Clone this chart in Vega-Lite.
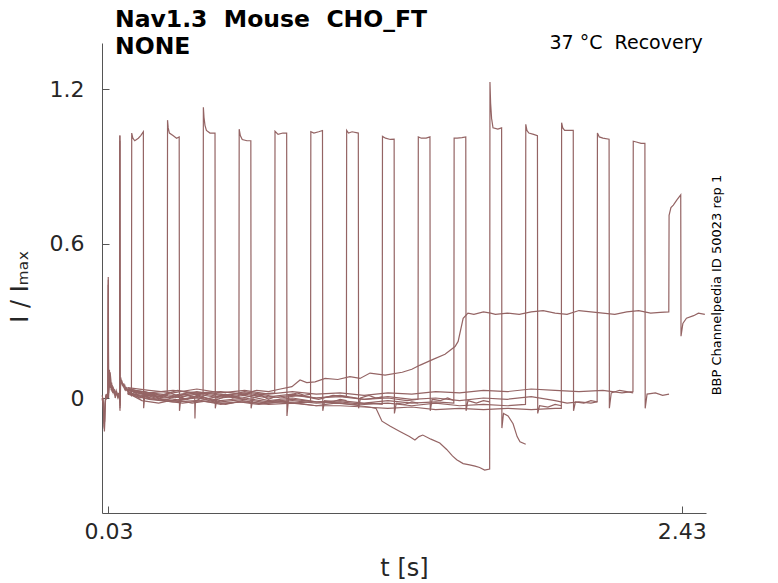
{
  "$schema": "https://vega.github.io/schema/vega-lite/v6.json",
  "width": 604,
  "height": 470,
  "autosize": "none",
  "padding": {"left": 102, "top": 43, "right": 72, "bottom": 70},
  "background": "white",
  "config": {
    "view": {"stroke": null},
    "font": "DejaVu Sans",
    "axis": {
      "grid": false,
      "domainColor": "#555555",
      "tickColor": "#555555",
      "tickSize": -7,
      "labelColor": "#262626",
      "labelFont": "DejaVu Sans",
      "labelFontSize": 22,
      "titleColor": "#262626",
      "titleFont": "DejaVu Sans",
      "titleFontSize": 24,
      "titleFontWeight": "normal"
    }
  },
  "layer": [
    {
      "data": {"values": [
        {"k":20,"t":0.003,"i":0.0},{"k":20,"t":0.006,"i":-0.01},{"k":20,"t":0.009,"i":-0.02},{"k":20,"t":0.011,"i":-0.11},{"k":20,"t":0.013,"i":-0.12},{"k":20,"t":0.015,"i":-0.04},{"k":20,"t":0.018,"i":0.01},{"k":20,"t":0.022,"i":0.0},{"k":20,"t":0.026,"i":0.02},{"k":20,"t":0.028,"i":0.01},{"k":20,"t":0.029,"i":0.47},{"k":20,"t":0.030,"i":0.03},{"k":20,"t":0.032,"i":0.06},{"k":20,"t":0.034,"i":0.11},{"k":20,"t":0.036,"i":0.04},{"k":20,"t":0.038,"i":0.09},{"k":20,"t":0.041,"i":0.03},{"k":20,"t":0.045,"i":0.05},{"k":20,"t":0.05,"i":0.02},{"k":20,"t":0.055,"i":0.03},{"k":20,"t":0.06,"i":0.01},{"k":20,"t":0.065,"i":0.02},{"k":20,"t":0.07,"i":0.0},{"k":20,"t":0.074,"i":0.01},{"k":20,"t":0.077,"i":0.0},{"k":20,"t":0.0775,"i":1.02},{"k":20,"t":0.078,"i":-0.05},{"k":20,"t":0.079,"i":0.03},{"k":20,"t":0.081,"i":0.08},{"k":20,"t":0.085,"i":0.06},{"k":20,"t":0.09,"i":0.05},{"k":20,"t":0.095,"i":0.04},{"k":20,"t":0.1,"i":0.03},{"k":20,"t":0.105,"i":0.035},{"k":20,"t":0.11,"i":0.03},
        {"k":21,"t":0.003,"i":0.01},{"k":21,"t":0.006,"i":0.0},{"k":21,"t":0.009,"i":-0.04},{"k":21,"t":0.011,"i":-0.09},{"k":21,"t":0.013,"i":-0.13},{"k":21,"t":0.015,"i":-0.06},{"k":21,"t":0.018,"i":0.0},{"k":21,"t":0.022,"i":0.01},{"k":21,"t":0.026,"i":0.0},{"k":21,"t":0.028,"i":0.02},{"k":21,"t":0.0292,"i":0.46},{"k":21,"t":0.0305,"i":0.02},{"k":21,"t":0.033,"i":0.08},{"k":21,"t":0.035,"i":0.05},{"k":21,"t":0.037,"i":0.1},{"k":21,"t":0.04,"i":0.06},{"k":21,"t":0.044,"i":0.03},{"k":21,"t":0.05,"i":0.04},{"k":21,"t":0.056,"i":0.015},{"k":21,"t":0.062,"i":0.03},{"k":21,"t":0.068,"i":0.005},{"k":21,"t":0.073,"i":0.02},{"k":21,"t":0.0768,"i":0.0},{"k":21,"t":0.0776,"i":1.0},{"k":21,"t":0.0782,"i":-0.04},{"k":21,"t":0.08,"i":0.05},{"k":21,"t":0.083,"i":0.07},{"k":21,"t":0.088,"i":0.05},{"k":21,"t":0.094,"i":0.055},{"k":21,"t":0.1,"i":0.035},{"k":21,"t":0.106,"i":0.04},{"k":21,"t":0.11,"i":0.025},
        {"k":22,"t":0.003,"i":-0.01},{"k":22,"t":0.007,"i":0.0},{"k":22,"t":0.01,"i":-0.07},{"k":22,"t":0.012,"i":-0.1},{"k":22,"t":0.014,"i":-0.09},{"k":22,"t":0.016,"i":-0.02},{"k":22,"t":0.02,"i":0.015},{"k":22,"t":0.024,"i":0.005},{"k":22,"t":0.027,"i":0.015},{"k":22,"t":0.0288,"i":0.44},{"k":22,"t":0.0302,"i":0.0},{"k":22,"t":0.033,"i":0.05},{"k":22,"t":0.036,"i":0.08},{"k":22,"t":0.039,"i":0.04},{"k":22,"t":0.043,"i":0.06},{"k":22,"t":0.048,"i":0.02},{"k":22,"t":0.053,"i":0.035},{"k":22,"t":0.058,"i":0.0},{"k":22,"t":0.064,"i":0.02},{"k":22,"t":0.07,"i":0.01},{"k":22,"t":0.075,"i":0.015},{"k":22,"t":0.0772,"i":-0.02},{"k":22,"t":0.0778,"i":1.02},{"k":22,"t":0.0785,"i":-0.03},{"k":22,"t":0.081,"i":0.06},{"k":22,"t":0.086,"i":0.065},{"k":22,"t":0.092,"i":0.045},{"k":22,"t":0.098,"i":0.05},{"k":22,"t":0.104,"i":0.03},{"k":22,"t":0.11,"i":0.035},

        {"k":0,"t":0.11,"i":0.03},{"k":0,"t":0.118,"i":0.02},{"k":0,"t":0.126,"i":0.01},{"k":0,"t":0.1272,"i":1.03},{"k":0,"t":0.132,"i":1.01},{"k":0,"t":0.14,"i":1.0},{"k":0,"t":0.155,"i":1.01},{"k":0,"t":0.165,"i":1.02},{"k":0,"t":0.176,"i":1.035},{"k":0,"t":0.1772,"i":-0.04},{"k":0,"t":0.182,"i":0.01},{"k":0,"t":0.2,"i":0.0},{"k":0,"t":0.22,"i":0.015},{"k":0,"t":0.24,"i":-0.005},{"k":0,"t":0.26,"i":0.01},{"k":0,"t":0.277,"i":0.0},

        {"k":1,"t":0.11,"i":0.035},{"k":1,"t":0.15,"i":0.015},{"k":1,"t":0.2,"i":0.02},{"k":1,"t":0.24,"i":0.005},{"k":1,"t":0.276,"i":0.01},{"k":1,"t":0.2772,"i":1.08},{"k":1,"t":0.28,"i":1.05},{"k":1,"t":0.285,"i":1.03},{"k":1,"t":0.3,"i":1.02},{"k":1,"t":0.315,"i":1.01},{"k":1,"t":0.326,"i":1.015},{"k":1,"t":0.3272,"i":-0.05},{"k":1,"t":0.333,"i":0.0},{"k":1,"t":0.36,"i":0.01},{"k":1,"t":0.391,"i":0.0},{"k":1,"t":0.392,"i":-0.08},{"k":1,"t":0.394,"i":-0.01},{"k":1,"t":0.41,"i":-0.005},{"k":1,"t":0.427,"i":0.005},

        {"k":2,"t":0.11,"i":0.025},{"k":2,"t":0.16,"i":0.0},{"k":2,"t":0.21,"i":0.015},{"k":2,"t":0.26,"i":-0.01},{"k":2,"t":0.31,"i":0.005},{"k":2,"t":0.36,"i":-0.005},{"k":2,"t":0.4,"i":0.01},{"k":2,"t":0.426,"i":0.0},{"k":2,"t":0.4272,"i":1.13},{"k":2,"t":0.43,"i":1.09},{"k":2,"t":0.434,"i":1.06},{"k":2,"t":0.44,"i":1.04},{"k":2,"t":0.455,"i":1.03},{"k":2,"t":0.476,"i":1.03},{"k":2,"t":0.4772,"i":-0.04},{"k":2,"t":0.485,"i":0.005},{"k":2,"t":0.52,"i":0.015},{"k":2,"t":0.55,"i":0.0},{"k":2,"t":0.577,"i":0.01},

        {"k":3,"t":0.11,"i":0.04},{"k":3,"t":0.17,"i":0.02},{"k":3,"t":0.23,"i":0.005},{"k":3,"t":0.29,"i":0.02},{"k":3,"t":0.35,"i":-0.005},{"k":3,"t":0.41,"i":0.01},{"k":3,"t":0.47,"i":-0.01},{"k":3,"t":0.52,"i":0.005},{"k":3,"t":0.576,"i":0.0},{"k":3,"t":0.5772,"i":1.045},{"k":3,"t":0.582,"i":1.02},{"k":3,"t":0.59,"i":1.005},{"k":3,"t":0.61,"i":1.0},{"k":3,"t":0.626,"i":1.0},{"k":3,"t":0.6272,"i":-0.04},{"k":3,"t":0.635,"i":0.0},{"k":3,"t":0.67,"i":0.01},{"k":3,"t":0.7,"i":-0.005},{"k":3,"t":0.727,"i":0.005},

        {"k":4,"t":0.11,"i":0.03},{"k":4,"t":0.18,"i":0.025},{"k":4,"t":0.25,"i":0.01},{"k":4,"t":0.32,"i":0.03},{"k":4,"t":0.39,"i":0.015},{"k":4,"t":0.46,"i":0.02},{"k":4,"t":0.53,"i":0.01},{"k":4,"t":0.6,"i":0.025},{"k":4,"t":0.67,"i":0.015},{"k":4,"t":0.726,"i":0.02},{"k":4,"t":0.7272,"i":1.037},{"k":4,"t":0.74,"i":1.025},{"k":4,"t":0.76,"i":1.03},{"k":4,"t":0.776,"i":1.03},{"k":4,"t":0.7772,"i":-0.07},{"k":4,"t":0.785,"i":0.01},{"k":4,"t":0.82,"i":0.02},{"k":4,"t":0.85,"i":0.01},{"k":4,"t":0.877,"i":0.015},

        {"k":5,"t":0.11,"i":0.02},{"k":5,"t":0.17,"i":-0.01},{"k":5,"t":0.24,"i":-0.02},{"k":5,"t":0.31,"i":-0.005},{"k":5,"t":0.38,"i":-0.02},{"k":5,"t":0.45,"i":-0.01},{"k":5,"t":0.52,"i":-0.025},{"k":5,"t":0.59,"i":-0.01},{"k":5,"t":0.66,"i":-0.02},{"k":5,"t":0.73,"i":-0.01},{"k":5,"t":0.8,"i":-0.02},{"k":5,"t":0.876,"i":-0.015},{"k":5,"t":0.8772,"i":1.035},{"k":5,"t":0.89,"i":1.03},{"k":5,"t":0.91,"i":1.035},{"k":5,"t":0.926,"i":1.04},{"k":5,"t":0.9272,"i":-0.05},{"k":5,"t":0.935,"i":-0.01},{"k":5,"t":0.97,"i":-0.015},{"k":5,"t":1.0,"i":-0.005},{"k":5,"t":1.027,"i":-0.01},

        {"k":6,"t":0.11,"i":0.03},{"k":6,"t":0.19,"i":0.01},{"k":6,"t":0.27,"i":0.0},{"k":6,"t":0.35,"i":0.015},{"k":6,"t":0.43,"i":-0.005},{"k":6,"t":0.51,"i":0.01},{"k":6,"t":0.59,"i":0.0},{"k":6,"t":0.67,"i":0.015},{"k":6,"t":0.75,"i":0.0},{"k":6,"t":0.83,"i":0.01},{"k":6,"t":0.91,"i":-0.005},{"k":6,"t":0.97,"i":0.01},{"k":6,"t":1.026,"i":0.005},{"k":6,"t":1.0272,"i":1.04},{"k":6,"t":1.035,"i":1.03},{"k":6,"t":1.05,"i":1.035},{"k":6,"t":1.076,"i":1.03},{"k":6,"t":1.0772,"i":-0.04},{"k":6,"t":1.085,"i":0.0},{"k":6,"t":1.12,"i":0.01},{"k":6,"t":1.15,"i":0.0},{"k":6,"t":1.177,"i":0.005},

        {"k":7,"t":0.11,"i":0.025},{"k":7,"t":0.18,"i":0.0},{"k":7,"t":0.26,"i":-0.01},{"k":7,"t":0.34,"i":-0.02},{"k":7,"t":0.42,"i":-0.01},{"k":7,"t":0.5,"i":-0.025},{"k":7,"t":0.58,"i":-0.015},{"k":7,"t":0.66,"i":-0.025},{"k":7,"t":0.74,"i":-0.015},{"k":7,"t":0.82,"i":-0.02},{"k":7,"t":0.9,"i":-0.03},{"k":7,"t":0.98,"i":-0.02},{"k":7,"t":1.06,"i":-0.025},{"k":7,"t":1.13,"i":-0.02},{"k":7,"t":1.176,"i":-0.025},{"k":7,"t":1.1772,"i":1.017},{"k":7,"t":1.19,"i":1.01},{"k":7,"t":1.21,"i":1.005},{"k":7,"t":1.226,"i":1.006},{"k":7,"t":1.2272,"i":-0.06},{"k":7,"t":1.235,"i":-0.02},{"k":7,"t":1.27,"i":-0.025},{"k":7,"t":1.3,"i":-0.015},{"k":7,"t":1.327,"i":-0.02},

        {"k":8,"t":0.11,"i":0.035},{"k":8,"t":0.2,"i":0.02},{"k":8,"t":0.3,"i":0.01},{"k":8,"t":0.4,"i":0.025},{"k":8,"t":0.5,"i":0.01},{"k":8,"t":0.6,"i":0.02},{"k":8,"t":0.7,"i":0.005},{"k":8,"t":0.8,"i":0.015},{"k":8,"t":0.9,"i":0.0},{"k":8,"t":1.0,"i":0.01},{"k":8,"t":1.1,"i":-0.005},{"k":8,"t":1.2,"i":0.0},{"k":8,"t":1.28,"i":-0.01},{"k":8,"t":1.326,"i":-0.005},{"k":8,"t":1.3272,"i":1.015},{"k":8,"t":1.34,"i":1.01},{"k":8,"t":1.36,"i":1.01},{"k":8,"t":1.376,"i":1.015},{"k":8,"t":1.3772,"i":-0.05},{"k":8,"t":1.385,"i":-0.005},{"k":8,"t":1.42,"i":-0.01},{"k":8,"t":1.45,"i":0.0},{"k":8,"t":1.477,"i":-0.01},

        {"k":9,"t":0.11,"i":0.02},{"k":9,"t":0.2,"i":0.0},{"k":9,"t":0.3,"i":-0.01},{"k":9,"t":0.4,"i":0.005},{"k":9,"t":0.5,"i":-0.01},{"k":9,"t":0.6,"i":0.0},{"k":9,"t":0.7,"i":-0.015},{"k":9,"t":0.8,"i":-0.005},{"k":9,"t":0.9,"i":-0.015},{"k":9,"t":1.0,"i":-0.01},{"k":9,"t":1.1,"i":-0.02},{"k":9,"t":1.2,"i":-0.01},{"k":9,"t":1.3,"i":-0.02},{"k":9,"t":1.4,"i":-0.015},{"k":9,"t":1.476,"i":-0.02},{"k":9,"t":1.4772,"i":1.01},{"k":9,"t":1.49,"i":1.01},{"k":9,"t":1.51,"i":1.012},{"k":9,"t":1.526,"i":1.015},{"k":9,"t":1.5272,"i":-0.05},{"k":9,"t":1.535,"i":-0.01},{"k":9,"t":1.57,"i":-0.02},{"k":9,"t":1.6,"i":-0.01},{"k":9,"t":1.627,"i":-0.015},

        {"k":10,"t":0.11,"i":0.03},{"k":10,"t":0.2,"i":0.01},{"k":10,"t":0.3,"i":0.0},{"k":10,"t":0.4,"i":0.015},{"k":10,"t":0.5,"i":0.0},{"k":10,"t":0.6,"i":0.01},{"k":10,"t":0.7,"i":-0.01},{"k":10,"t":0.8,"i":0.0},{"k":10,"t":0.9,"i":-0.015},{"k":10,"t":1.0,"i":-0.02},{"k":10,"t":1.08,"i":-0.03},{"k":10,"t":1.12,"i":-0.035},{"k":10,"t":1.15,"i":-0.04},{"k":10,"t":1.175,"i":-0.09},{"k":10,"t":1.21,"i":-0.11},{"k":10,"t":1.25,"i":-0.13},{"k":10,"t":1.29,"i":-0.15},{"k":10,"t":1.313,"i":-0.163},{"k":10,"t":1.33,"i":-0.15},{"k":10,"t":1.346,"i":-0.144},{"k":10,"t":1.38,"i":-0.16},{"k":10,"t":1.417,"i":-0.175},{"k":10,"t":1.446,"i":-0.2},{"k":10,"t":1.47,"i":-0.225},{"k":10,"t":1.488,"i":-0.24},{"k":10,"t":1.515,"i":-0.255},{"k":10,"t":1.542,"i":-0.26},{"k":10,"t":1.565,"i":-0.265},{"k":10,"t":1.584,"i":-0.27},{"k":10,"t":1.605,"i":-0.28},{"k":10,"t":1.626,"i":-0.276},{"k":10,"t":1.6272,"i":1.228},{"k":10,"t":1.63,"i":1.146},{"k":10,"t":1.634,"i":1.087},{"k":10,"t":1.64,"i":1.05},{"k":10,"t":1.66,"i":1.045},{"k":10,"t":1.676,"i":1.05},{"k":10,"t":1.6772,"i":-0.117},{"k":10,"t":1.684,"i":-0.06},{"k":10,"t":1.703,"i":-0.07},{"k":10,"t":1.724,"i":-0.1},{"k":10,"t":1.741,"i":-0.15},{"k":10,"t":1.753,"i":-0.17},{"k":10,"t":1.777,"i":-0.18},

        {"k":11,"t":0.11,"i":0.02},{"k":11,"t":0.2,"i":0.005},{"k":11,"t":0.3,"i":-0.01},{"k":11,"t":0.4,"i":0.0},{"k":11,"t":0.5,"i":-0.015},{"k":11,"t":0.6,"i":-0.005},{"k":11,"t":0.7,"i":-0.02},{"k":11,"t":0.8,"i":-0.01},{"k":11,"t":0.9,"i":-0.02},{"k":11,"t":1.0,"i":-0.015},{"k":11,"t":1.1,"i":-0.025},{"k":11,"t":1.2,"i":-0.02},{"k":11,"t":1.3,"i":-0.03},{"k":11,"t":1.4,"i":-0.02},{"k":11,"t":1.5,"i":-0.03},{"k":11,"t":1.6,"i":-0.025},{"k":11,"t":1.7,"i":-0.03},{"k":11,"t":1.776,"i":-0.025},{"k":11,"t":1.7772,"i":1.064},{"k":11,"t":1.782,"i":1.04},{"k":11,"t":1.79,"i":1.03},{"k":11,"t":1.81,"i":1.025},{"k":11,"t":1.826,"i":1.02},{"k":11,"t":1.8272,"i":-0.06},{"k":11,"t":1.835,"i":-0.03},{"k":11,"t":1.87,"i":-0.035},{"k":11,"t":1.9,"i":-0.025},{"k":11,"t":1.927,"i":-0.03},

        {"k":12,"t":0.11,"i":0.015},{"k":12,"t":0.2,"i":-0.005},{"k":12,"t":0.3,"i":-0.015},{"k":12,"t":0.4,"i":-0.01},{"k":12,"t":0.5,"i":-0.02},{"k":12,"t":0.6,"i":-0.015},{"k":12,"t":0.7,"i":-0.025},{"k":12,"t":0.8,"i":-0.02},{"k":12,"t":0.9,"i":-0.03},{"k":12,"t":1.0,"i":-0.03},{"k":12,"t":1.1,"i":-0.035},{"k":12,"t":1.2,"i":-0.04},{"k":12,"t":1.3,"i":-0.035},{"k":12,"t":1.4,"i":-0.045},{"k":12,"t":1.5,"i":-0.04},{"k":12,"t":1.6,"i":-0.045},{"k":12,"t":1.7,"i":-0.04},{"k":12,"t":1.8,"i":-0.045},{"k":12,"t":1.9,"i":-0.04},{"k":12,"t":1.926,"i":-0.04},{"k":12,"t":1.9272,"i":1.07},{"k":12,"t":1.932,"i":1.05},{"k":12,"t":1.94,"i":1.04},{"k":12,"t":1.96,"i":1.04},{"k":12,"t":1.976,"i":1.04},{"k":12,"t":1.9772,"i":-0.05},{"k":12,"t":1.985,"i":-0.015},{"k":12,"t":2.02,"i":-0.02},{"k":12,"t":2.05,"i":-0.01},{"k":12,"t":2.077,"i":-0.015},

        {"k":13,"t":0.11,"i":0.03},{"k":13,"t":0.2,"i":0.015},{"k":13,"t":0.3,"i":0.005},{"k":13,"t":0.4,"i":0.02},{"k":13,"t":0.5,"i":0.005},{"k":13,"t":0.6,"i":0.015},{"k":13,"t":0.7,"i":0.0},{"k":13,"t":0.8,"i":0.01},{"k":13,"t":0.9,"i":0.0},{"k":13,"t":1.0,"i":0.005},{"k":13,"t":1.1,"i":-0.005},{"k":13,"t":1.2,"i":0.005},{"k":13,"t":1.3,"i":-0.005},{"k":13,"t":1.4,"i":0.0},{"k":13,"t":1.5,"i":-0.01},{"k":13,"t":1.6,"i":0.0},{"k":13,"t":1.7,"i":-0.005},{"k":13,"t":1.8,"i":0.005},{"k":13,"t":1.9,"i":-0.01},{"k":13,"t":1.95,"i":-0.02},{"k":13,"t":2.0,"i":-0.015},{"k":13,"t":2.05,"i":-0.02},{"k":13,"t":2.076,"i":-0.015},{"k":13,"t":2.0772,"i":1.03},{"k":13,"t":2.085,"i":1.015},{"k":13,"t":2.1,"i":1.01},{"k":13,"t":2.126,"i":1.006},{"k":13,"t":2.1272,"i":-0.04},{"k":13,"t":2.135,"i":0.02},{"k":13,"t":2.17,"i":0.03},{"k":13,"t":2.2,"i":0.025},{"k":13,"t":2.227,"i":0.02},

        {"k":14,"t":0.11,"i":0.04},{"k":14,"t":0.2,"i":0.03},{"k":14,"t":0.3,"i":0.02},{"k":14,"t":0.4,"i":0.035},{"k":14,"t":0.5,"i":0.02},{"k":14,"t":0.6,"i":0.03},{"k":14,"t":0.7,"i":0.015},{"k":14,"t":0.8,"i":0.025},{"k":14,"t":0.9,"i":0.015},{"k":14,"t":1.0,"i":0.02},{"k":14,"t":1.1,"i":0.01},{"k":14,"t":1.2,"i":0.02},{"k":14,"t":1.3,"i":0.015},{"k":14,"t":1.4,"i":0.025},{"k":14,"t":1.5,"i":0.02},{"k":14,"t":1.6,"i":0.03},{"k":14,"t":1.7,"i":0.025},{"k":14,"t":1.8,"i":0.035},{"k":14,"t":1.9,"i":0.03},{"k":14,"t":2.0,"i":0.025},{"k":14,"t":2.1,"i":0.03},{"k":14,"t":2.18,"i":0.02},{"k":14,"t":2.226,"i":0.025},{"k":14,"t":2.2272,"i":0.998},{"k":14,"t":2.24,"i":0.995},{"k":14,"t":2.26,"i":0.99},{"k":14,"t":2.276,"i":0.99},{"k":14,"t":2.2772,"i":-0.04},{"k":14,"t":2.285,"i":0.015},{"k":14,"t":2.32,"i":0.02},{"k":14,"t":2.35,"i":0.01},{"k":14,"t":2.377,"i":0.015},

        {"k":15,"t":0.11,"i":0.035},{"k":15,"t":0.2,"i":0.02},{"k":15,"t":0.3,"i":0.03},{"k":15,"t":0.4,"i":0.02},{"k":15,"t":0.5,"i":0.025},{"k":15,"t":0.6,"i":0.015},{"k":15,"t":0.65,"i":0.03},{"k":15,"t":0.7,"i":0.025},{"k":15,"t":0.75,"i":0.035},{"k":15,"t":0.798,"i":0.044},{"k":15,"t":0.832,"i":0.07},{"k":15,"t":0.86,"i":0.06},{"k":15,"t":0.895,"i":0.063},{"k":15,"t":0.937,"i":0.076},{"k":15,"t":0.99,"i":0.072},{"k":15,"t":1.041,"i":0.083},{"k":15,"t":1.083,"i":0.076},{"k":15,"t":1.125,"i":0.097},{"k":15,"t":1.188,"i":0.089},{"k":15,"t":1.26,"i":0.1},{"k":15,"t":1.3,"i":0.112},{"k":15,"t":1.335,"i":0.128},{"k":15,"t":1.389,"i":0.15},{"k":15,"t":1.439,"i":0.17},{"k":15,"t":1.481,"i":0.2},{"k":15,"t":1.494,"i":0.22},{"k":15,"t":1.515,"i":0.31},{"k":15,"t":1.535,"i":0.33},{"k":15,"t":1.56,"i":0.325},{"k":15,"t":1.6,"i":0.335},{"k":15,"t":1.63,"i":0.33},{"k":15,"t":1.65,"i":0.325},{"k":15,"t":1.7,"i":0.33},{"k":15,"t":1.75,"i":0.325},{"k":15,"t":1.8,"i":0.335},{"k":15,"t":1.85,"i":0.34},{"k":15,"t":1.9,"i":0.33},{"k":15,"t":1.95,"i":0.325},{"k":15,"t":2.0,"i":0.34},{"k":15,"t":2.05,"i":0.335},{"k":15,"t":2.1,"i":0.33},{"k":15,"t":2.15,"i":0.325},{"k":15,"t":2.2,"i":0.335},{"k":15,"t":2.25,"i":0.34},{"k":15,"t":2.3,"i":0.33},{"k":15,"t":2.34,"i":0.333},{"k":15,"t":2.376,"i":0.335},{"k":15,"t":2.3772,"i":0.71},{"k":15,"t":2.385,"i":0.74},{"k":15,"t":2.395,"i":0.75},{"k":15,"t":2.41,"i":0.77},{"k":15,"t":2.426,"i":0.79},{"k":15,"t":2.4272,"i":0.24},{"k":15,"t":2.435,"i":0.29},{"k":15,"t":2.45,"i":0.31},{"k":15,"t":2.48,"i":0.32},{"k":15,"t":2.5,"i":0.33},{"k":15,"t":2.527,"i":0.325}
      ]},
      "mark": {"type": "line", "color": "#946464", "strokeWidth": 1.2},
      "encoding": {
        "x": {
          "field": "t",
          "type": "quantitative",
          "scale": {"domain": [0.0028, 2.5318], "nice": false, "zero": false},
          "axis": {"values": [0.03, 2.43], "format": ".2f", "title": "t [s]", "labelPadding": 15, "titlePadding": 14}
        },
        "y": {
          "field": "i",
          "type": "quantitative",
          "scale": {"domain": [-0.447, 1.38], "nice": false, "zero": false},
          "axis": {"values": [0, 0.6, 1.2], "format": "~g", "title": "I / Iₘₐₓ", "labelPadding": 25, "titlePadding": 17, "titleY": 243}
        },
        "detail": {"field": "k", "type": "nominal"}
      }
    },
    {
      "data": {"values": [
        {"label": "Nav1.3\u00a0 Mouse\u00a0 CHO_FT", "t": 0.0572, "i": 1.4434},
        {"label": "NONE", "t": 0.0572, "i": 1.338}
      ]},
      "mark": {"type": "text", "align": "left", "baseline": "alphabetic", "fontSize": 23.5, "fontWeight": "bold", "font": "DejaVu Sans", "color": "#000000"},
      "encoding": {
        "x": {"field": "t", "type": "quantitative"},
        "y": {"field": "i", "type": "quantitative"},
        "text": {"field": "label"}
      }
    },
    {
      "data": {"values": [{"label": "37 °C\u00a0 Recovery", "t": 2.518, "i": 1.3555}]},
      "mark": {"type": "text", "align": "right", "baseline": "alphabetic", "fontSize": 19, "font": "DejaVu Sans", "color": "#000000"},
      "encoding": {
        "x": {"field": "t", "type": "quantitative"},
        "y": {"field": "i", "type": "quantitative"},
        "text": {"field": "label"}
      }
    },
    {
      "data": {"values": [{"label": "BBP Channelpedia ID 50023 rep 1", "t": 2.578, "i": 0.439}]},
      "mark": {"type": "text", "align": "center", "baseline": "middle", "angle": 270, "fontSize": 13, "font": "DejaVu Sans", "color": "#000000"},
      "encoding": {
        "x": {"field": "t", "type": "quantitative"},
        "y": {"field": "i", "type": "quantitative"},
        "text": {"field": "label"}
      }
    }
  ]
}
